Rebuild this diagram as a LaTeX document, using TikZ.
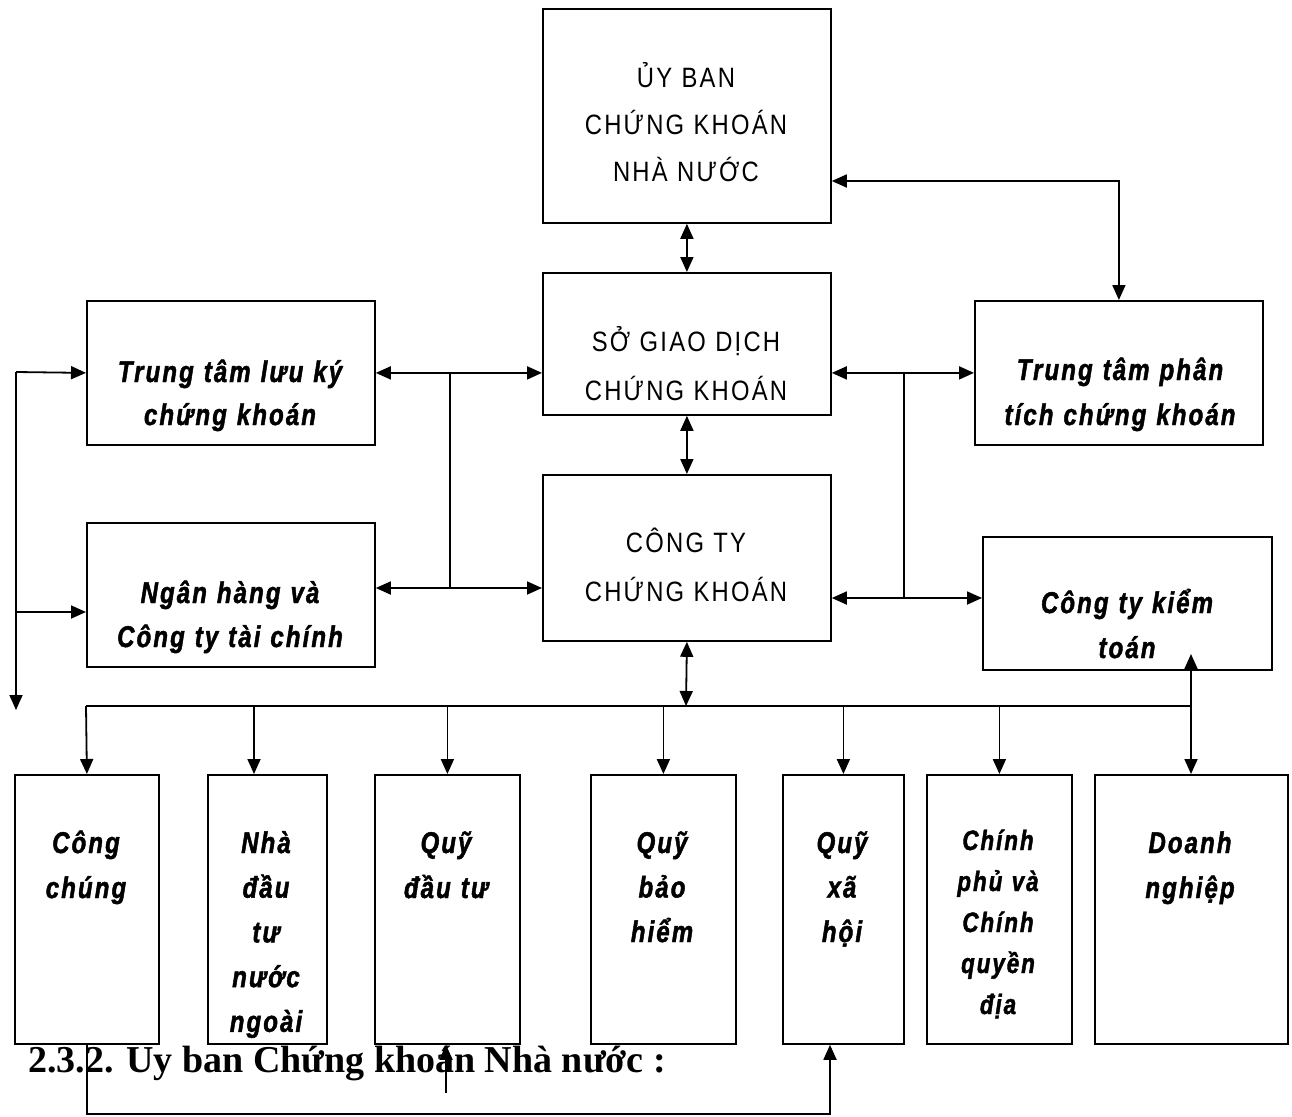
\documentclass[tikz,border=0pt]{standalone}
\usepackage{fontspec}
\setmainfont{Liberation Sans}
\newfontfamily\capsfont{Liberation Sans}[FakeStretch=0.85, LetterSpace=8]
\newfontfamily\itfont{Liberation Sans}[FakeStretch=0.8, LetterSpace=7, BoldItalicFeatures={FakeBold=1.5}]
\newfontfamily\headfont{Liberation Serif}
\usetikzlibrary{arrows.meta}
\begin{document}
\begin{tikzpicture}[x=1pt,y=-1pt,
  box/.style={draw, line width=1.8pt, fill=white, inner sep=0pt, anchor=north west},
  ln/.style={line width=1.8pt},
  arr/.style={ln, -{Triangle[length=15pt,width=13pt]}},
  dbl/.style={ln, {Triangle[length=15pt,width=13pt]}-{Triangle[length=15pt,width=13pt]}},
  captxt/.style={anchor=base, inner sep=0pt, text width=300pt, align=center},
  itxt/.style={anchor=base, inner sep=0pt, text width=300pt, align=center}
]
\useasboundingbox (0,0) rectangle (1292,1116);

% heading text partly hidden behind the boxes
\node[anchor=base west, inner sep=0pt] (head) at (28,1072)
  {\headfont\bfseries\fontsize{38}{40}\selectfont 2.3.2. Ủy ban Chứng khoán Nhà nước :};

% upper boxes
\node[box, minimum width=288pt, minimum height=214pt] (ubck) at (542,8) {};
\node[box, minimum width=288pt, minimum height=142pt] (sgd)  at (542,272) {};
\node[box, minimum width=288pt, minimum height=166pt] (ctck) at (542,474) {};
\node[box, minimum width=288pt, minimum height=144pt] (ttlk) at (86,300) {};
\node[box, minimum width=288pt, minimum height=144pt] (nh)   at (86,522) {};
\node[box, minimum width=288pt, minimum height=144pt] (ttpt) at (974,300) {};
\node[box, minimum width=289pt, minimum height=133pt] (kt)   at (982,536) {};

% bottom boxes
\node[box, minimum width=144pt, minimum height=269pt] (cc)  at (14,774) {};
\node[box, minimum width=119pt, minimum height=269pt] (nn)  at (207,774) {};
\node[box, minimum width=145pt, minimum height=269pt] (qdt) at (374,774) {};
\node[box, minimum width=145pt, minimum height=269pt] (qbh) at (590,774) {};
\node[box, minimum width=121pt, minimum height=269pt] (qxh) at (782,774) {};
\node[box, minimum width=145pt, minimum height=269pt] (cp)  at (926,774) {};
\node[box, minimum width=193pt, minimum height=269pt] (dn)  at (1094,774) {};

% texts
\node[captxt, font={\capsfont\fontsize{28}{46.5}\selectfont}] (tubck) at (686,88) {ỦY BAN\\CHỨNG KHOÁN\\NHÀ NƯỚC};
\node[captxt, font={\capsfont\fontsize{28}{49}\selectfont}] (tsgd) at (686,351) {SỞ GIAO DỊCH\\CHỨNG KHOÁN};
\node[captxt, font={\capsfont\fontsize{28}{49}\selectfont}] (tctck) at (686,552) {CÔNG TY\\CHỨNG KHOÁN};
\node[itxt, font={\itfont\bfseries\itshape\fontsize{30}{43}\selectfont}] (tttlk) at (230,382) {Trung tâm lưu ký\\chứng khoán};
\node[itxt, font={\itfont\bfseries\itshape\fontsize{30}{44}\selectfont}] (tnh) at (230,603) {Ngân hàng và\\Công ty tài chính};
\node[itxt, font={\itfont\bfseries\itshape\fontsize{30}{45}\selectfont}] (tttpt) at (1120,380) {Trung tâm phân\\tích chứng khoán};
\node[itxt, font={\itfont\bfseries\itshape\fontsize{30}{45}\selectfont}] (tkt) at (1127,613) {Công ty kiểm\\toán};
\node[itxt, font={\itfont\bfseries\itshape\fontsize{30}{45}\selectfont}] (tcc) at (86,853) {Công\\chúng};
\node[itxt, font={\itfont\bfseries\itshape\fontsize{30}{44.7}\selectfont}] (tnn) at (266,853) {Nhà\\đầu\\tư\\nước\\ngoài};
\node[itxt, font={\itfont\bfseries\itshape\fontsize{30}{45}\selectfont}] (tqdt) at (446,853) {Quỹ\\đầu tư};
\node[itxt, font={\itfont\bfseries\itshape\fontsize{30}{44.5}\selectfont}] (tqbh) at (662,853) {Quỹ\\bảo\\hiểm};
\node[itxt, font={\itfont\bfseries\itshape\fontsize{30}{44.5}\selectfont}] (tqxh) at (842,853) {Quỹ\\xã\\hội};
\node[itxt, font={\itfont\bfseries\itshape\fontsize{28}{41}\selectfont}] (tcp) at (998,850) {Chính\\phủ và\\Chính\\quyền\\địa};
\node[itxt, font={\itfont\bfseries\itshape\fontsize{30}{45}\selectfont}] (tdn) at (1190,853) {Doanh\\nghiệp};

% helper coordinates
\coordinate (r1) at (1118,181);
\coordinate (r2) at (0,588);
\coordinate (r3) at (0,598);
\coordinate (r4) at (0,612);
\coordinate (jl) at (450,0);
\coordinate (jr) at (904,0);
\coordinate (lt) at (16,372);
\coordinate (lb) at (16,710);
\coordinate (busc) at (686,706);
\coordinate (bl) at (86,706);
\coordinate (br) at (1191,706);
\coordinate (a2) at (254,706);
\coordinate (kta) at (1191,654);
\coordinate (b1) at (830,1114);
\coordinate (a3) at (446,1093);

% central column
\draw[dbl] (ubck.south) -- (sgd.north);
\draw[dbl] (sgd.south) -- (ctck.north);
\draw[dbl] (ctck.south) -- (busc);
\draw[dbl] (ubck.east |- r1) -| (ttpt.north);

% left junction
\draw[dbl] (ttlk.east) -- (sgd.west |- ttlk.east);
\draw[dbl] (nh.east |- r2) -- (ctck.west |- r2);
\draw[ln] (jl |- ttlk.east) -- (jl |- r2);

% right junction
\draw[dbl] (sgd.east |- ttpt.west) -- (ttpt.west);
\draw[dbl] (ctck.east |- r3) -- (kt.west |- r3);
\draw[ln] (jr |- ttpt.west) -- (jr |- r3);

% left bus
\draw[arr] (lt) -- (ttlk.west);
\draw[arr] (lt) -- (lb);
\draw[arr] (lt |- r4) -- (nh.west |- r4);

% bottom bus
\draw[ln] (bl) -- (br);
\draw[arr] (bl) -- (cc.north);
\draw[arr] (a2) -- (nn.north -| a2);
\draw[arr] (qdt.north |- bl) -- (qdt.north);
\draw[arr] (qbh.north |- bl) -- (qbh.north);
\draw[arr] (qxh.north |- bl) -- (qxh.north);
\draw[arr] (cp.north |- bl) -- (cp.north);
\draw[arr] (br) -- (dn.north -| br);
\draw[arr] (br) -- (kta);

% bottom loop
\draw[arr] (cc.south) |- (b1) -- (qxh.south -| b1);
\draw[arr] (a3) -- (qdt.south -| a3);
\end{tikzpicture}
\end{document}
